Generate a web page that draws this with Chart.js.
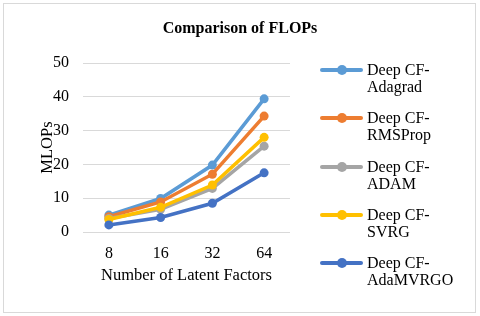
<!DOCTYPE html>
<html>
<head>
<meta charset="utf-8">
<script src="https://cdn.jsdelivr.net/npm/chart.js@4"></script>
<style>
  body { margin: 0; background: #fff; }
  #wrap { position: relative; width: 480px; height: 316px; }
  #frame { position: absolute; left: 3px; top: 3px; width: 471px; height: 308px; border: 1px solid #d9d9d9; }
  #title { position: absolute; left: 0; width: 480px; top: 18px; text-align: center;
           font: bold 16px "Liberation Serif"; line-height: 20px; color: #000; }
  #legend { position: absolute; left: 320px; top: 0; font: 16px "Liberation Serif"; color: #000; }
  .item { position: absolute; left: 0; width: 160px; }
  .swatch { position: absolute; left: 0; width: 43px; height: 3.5px; border-radius: 2px; }
  .dot { position: absolute; left: 16.5px; width: 10px; height: 10px; border-radius: 50%; }
  .txt { position: absolute; left: 47px; line-height: 17px; white-space: nowrap; }
</style>
</head>
<body>
<div id="wrap">
  <div id="frame"></div>
  <canvas id="flopsChart" width="480" height="316"></canvas>
  <div id="title">Comparison of FLOPs</div>
  <div id="legend"></div>
</div>
<script>
const factors = ["8", "16", "32", "64"];
const seriesNames = ["Deep CF-Adagrad", "Deep CF-RMSProp", "Deep CF-ADAM", "Deep CF-SVRG", "Deep CF-AdaMVRGO"];
const adagrad = [5.0, 9.9, 19.8, 39.4];
const rmsprop = [4.5, 8.9, 17.1, 34.3];
const adam = [4.0, 6.7, 12.9, 25.4];
const svrg = [3.7, 7.3, 13.9, 28.0];
const adamvrgo = [2.1, 4.3, 8.5, 17.5];
const yTicks = [0, 10, 20, 30, 40, 50];
const colors = ["#5B9BD5", "#ED7D31", "#A5A5A5", "#FFC000", "#4472C4"];

const values = [adagrad, rmsprop, adam, svrg, adamvrgo];
const font = { family: "Liberation Serif", size: 16 };
const titleFont = { family: "Liberation Serif", size: 16.5 };

const datasets = values.map(function (v, i) {
    return {
        label: seriesNames[i],
        data: v,
        borderColor: colors[i],
        backgroundColor: colors[i],
        borderWidth: 3.5,
        pointRadius: 4.5,
        pointBorderWidth: 0,
        pointBackgroundColor: colors[i],
        tension: 0,
        order: values.length - i
    };
});

const ctx = document.getElementById('flopsChart').getContext("2d");
const chart = new Chart(ctx, {
    type: 'line',
    data: { labels: factors, datasets: datasets },
    options: {
        responsive: false,
        animation: false,
        layout: { padding: { left: 0, right: 190, top: 63, bottom: 24 } },
        plugins: {
            legend: { display: false },
            title: { display: false },
            tooltip: { enabled: false }
        },
        scales: {
            x: {
                offset: true,
                grid: { display: false, drawTicks: false },
                border: { display: false },
                ticks: { color: "#000", font: font, padding: 12 },
                title: { display: true, text: "Number of Latent Factors", color: "#000", font: titleFont, padding: { top: 0, bottom: 6 } },
                afterFit: function (s) { s.height = 60; }
            },
            y: {
                min: yTicks[0],
                max: yTicks[yTicks.length - 1],
                afterBuildTicks: function (s) { s.ticks = yTicks.map(function (t) { return { value: t }; }); },
                grid: { color: "#d9d9d9", lineWidth: 1, drawTicks: false },
                border: { display: false },
                ticks: { color: "#000", font: font, padding: 14 },
                title: { display: true, text: "MLOPs", color: "#000", font: titleFont, padding: { top: 38, bottom: 0 } },
                afterFit: function (s) { s.width = 83; }
            }
        }
    }
});

// legend built from the chart's datasets
const legend = document.getElementById('legend');
const legendY = [70, 118, 167, 215, 263];
chart.data.datasets.forEach(function (ds, i) {
    const parts = ds.label.split("CF-");
    const item = document.createElement('div');
    item.className = 'item';
    item.style.top = legendY[i] + 'px';
    item.innerHTML = '<div class="swatch" style="top:-1.75px;background:' + ds.borderColor + '"></div>' +
        '<div class="dot" style="top:-5px;background:' + ds.borderColor + '"></div>' +
        '<div class="txt" style="top:-9px">' + parts[0] + 'CF-<br>' + parts[1] + '</div>';
    legend.appendChild(item);
});
</script>
</body>
</html>
